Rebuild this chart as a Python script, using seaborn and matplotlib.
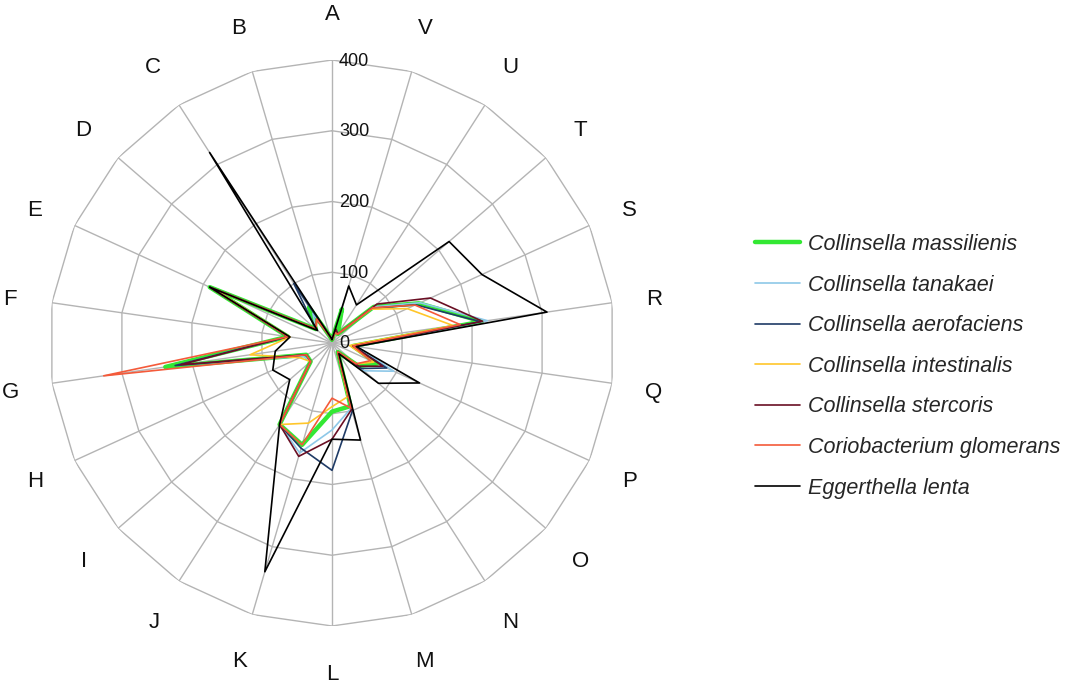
import numpy as np
import pandas as pd
import matplotlib
matplotlib.use("Agg")
import matplotlib.pyplot as plt
import matplotlib.transforms as mtransforms
import seaborn as sns

# categories, clockwise from the top
categories = ["A", "V", "U", "T", "S", "R", "Q", "P", "O", "N", "M",
              "L", "K", "J", "I", "H", "G", "F", "E", "D", "C", "B"]

massilienis = [5, 50, 15, 78, 135, 214, 30, 70, 50, 15, 93,
               97, 150, 137, 40, 40, 238, 63, 190, 30, 60, 10]
tanakaei = [5, 20, 15, 78, 137, 222, 35, 96, 60, 15, 96,
            123, 162, 137, 40, 45, 220, 63, 188, 30, 50, 10]
aerofaciens = [5, 20, 15, 75, 130, 212, 30, 85, 55, 15, 101,
               180, 155, 137, 40, 40, 224, 63, 190, 30, 100, 10]
intestinalis = [5, 15, 15, 73, 117, 173, 25, 65, 45, 15, 79,
                90, 118, 137, 40, 50, 117, 60, 185, 30, 40, 10]
stercoris = [5, 20, 15, 84, 153, 215, 30, 79, 50, 15, 98,
             136, 167, 137, 40, 40, 216, 63, 190, 30, 40, 10]
glomerans = [5, 15, 15, 76, 129, 183, 30, 60, 45, 15, 96,
             78, 150, 137, 40, 40, 326, 63, 188, 30, 40, 10]
lenta = [5, 84, 64, 219, 233, 307, 35, 136, 87, 18, 143,
         136, 337, 137, 79, 92, 81, 60, 190, 27, 320, 10]

series_names = ["Collinsella massilienis", "Collinsella tanakaei",
                "Collinsella aerofaciens", "Collinsella intestinalis",
                "Collinsella stercoris", "Coriobacterium glomerans",
                "Eggerthella lenta"]
series_values = [massilienis, tanakaei, aerofaciens, intestinalis,
                 stercoris, glomerans, lenta]
colors = ["#33e833", "#8ec8e8", "#1f3b66", "#ffc62a", "#6a0f24", "#f45a3a", "#000000"]
widths = [3.2, 1.2, 1.2, 1.2, 1.2, 1.2, 1.2]

ring_values = [0, 100, 200, 300, 400]

sns.set_style("white")
plt.rcParams["font.family"] = ["Liberation Sans", "DejaVu Sans"]

n = len(categories)
angles = np.linspace(0, 2 * np.pi, n, endpoint=False)
closed = np.append(angles, 2 * np.pi)

fig = plt.figure(figsize=(10.66, 6.85), dpi=100)
ax = fig.add_axes([49 / 1066, 59 / 685, 566 / 1066, 566 / 685], projection="polar")
ax.set_theta_zero_location("N")
ax.set_theta_direction(-1)
ax.set_ylim(0, 400)
ax.grid(False)
ax.spines["polar"].set_visible(False)
ax.set_xticks([])
ax.set_yticks([])

# polygon rings and spokes (excel style)
for rv in ring_values[1:]:
    ax.plot(closed, [rv] * (n + 1), color="#b4b4b4", lw=1.0, zorder=1)
for a in angles:
    ax.plot([a, a], [0, 400], color="#b4b4b4", lw=1.0, zorder=1)

handles = []
for name, vals, c, w in zip(series_names, series_values, colors, widths):
    d = pd.DataFrame({"angle": closed, "value": vals + vals[:1]})
    sns.lineplot(data=d, x="angle", y="value", sort=False, estimator=None,
                 color=c, linewidth=w, ax=ax, zorder=3)
    handles.append(ax.lines[-1])
ax.set_xlabel("")
ax.set_ylabel("")

# category labels, pushed out from the outer ring (pixels)
for a, cat in zip(angles, categories):
    extra = 331 - 6 * np.sin(a) ** 4 - 3 * max(0, -np.cos(a)) ** 4 - 283
    ax.annotate(cat, xy=(a, 400), xytext=(np.sin(a) * extra, np.cos(a) * extra - 3),
                textcoords="offset pixels", ha="center", va="center",
                fontsize=16, color="#111111", annotation_clip=False)

off = mtransforms.offset_copy(ax.transData, fig=fig, x=7, y=-1, units="dots")
for rv in ring_values:
    ax.text(0, rv, str(rv), transform=off, ha="left", va="center",
            fontsize=13, color="#111111")

fig.legend(handles, series_names, loc="upper left",
           bbox_to_anchor=(755 / 1066, (685 - 234) / 685),
           frameon=False, borderpad=0, borderaxespad=0,
           handlelength=2.1, handletextpad=0.36,
           labelspacing=0.91, prop={"style": "italic", "size": 15.5})

plt.savefig("out.png", dpi=100)
